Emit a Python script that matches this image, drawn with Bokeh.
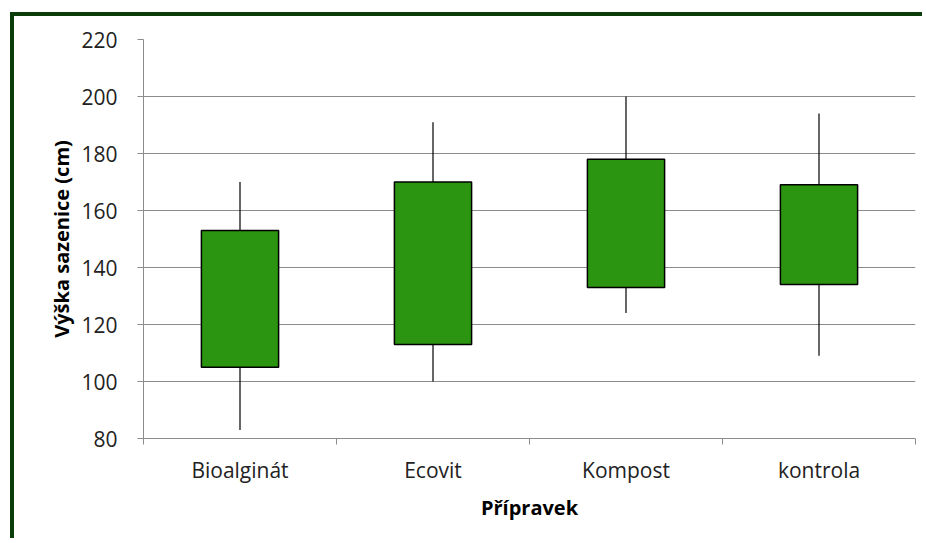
from bokeh.plotting import figure
from bokeh.models import FixedTicker, Range1d
from bokeh.embed import file_html
from bokeh.resources import INLINE

categories = ["Bioalginát", "Ecovit", "Kompost", "kontrola"]
whisker_low = [83, 100, 124, 109]
box_low = [105, 113, 133, 134]
box_high = [153, 170, 178, 169]
whisker_high = [170, 191, 200, 194]
y_ticks = [80, 100, 120, 140, 160, 180, 200, 220]

x_centers = [i + 0.5 for i in range(len(categories))]
x_bounds = list(range(len(categories) + 1))

FONT = "Open Sans"
GREY = "#8c8c8c"
GREEN = "#2b9410"

p = figure(width=912, height=526, output_backend="svg", toolbar_location=None,
           x_range=Range1d(0, len(categories)), y_range=Range1d(80, 220),
           min_border_left=129, min_border_right=11, min_border_top=23,
           min_border_bottom=104)
p.styles = {"margin-left": "10px", "margin-top": "12px",
            "border-left": "4px solid #0b3d0b", "border-top": "4px solid #0b3d0b"}
p.outline_line_color = None
p.background_fill_color = "white"
p.border_fill_color = "white"

# whiskers
p.segment(x0=x_centers, y0=whisker_low, x1=x_centers, y1=whisker_high,
          line_color="black", line_width=1.2)
# boxes
p.vbar(x=x_centers, width=0.4, bottom=box_low, top=box_high,
       fill_color=GREEN, line_color="black", line_width=1.5)

# y axis
p.yaxis.ticker = FixedTicker(ticks=y_ticks)
p.yaxis.axis_line_color = GREY
p.yaxis.major_tick_line_color = GREY
p.yaxis.major_tick_out = 6
p.yaxis.major_tick_in = 0
p.yaxis.minor_tick_line_color = None
p.yaxis.major_label_standoff = 20
p.yaxis.major_label_text_font = FONT
p.yaxis.major_label_text_font_size = "21px"
p.yaxis.major_label_text_color = "#222222"
p.yaxis.axis_label = "Výška sazenice (cm)"
p.yaxis.axis_label_text_font = FONT
p.yaxis.axis_label_text_font_style = "bold"
p.yaxis.axis_label_text_font_size = "20px"
p.yaxis.axis_label_text_color = "black"
p.yaxis.axis_label_standoff = 3

# x axis: labels at centers, tick marks at category boundaries
p.xaxis.ticker = FixedTicker(ticks=x_centers, minor_ticks=x_bounds)
p.xaxis.major_label_overrides = {x: c for x, c in zip(x_centers, categories)}
p.xaxis.axis_line_color = GREY
p.xaxis.major_tick_line_color = None
p.xaxis.minor_tick_line_color = GREY
p.xaxis.minor_tick_out = 6
p.xaxis.minor_tick_in = 0
p.xaxis.major_label_standoff = 11
p.xaxis.major_label_text_font = FONT
p.xaxis.major_label_text_font_size = "21px"
p.xaxis.major_label_text_color = "#222222"
p.xaxis.axis_label = "Přípravek"
p.xaxis.axis_label_text_font = FONT
p.xaxis.axis_label_text_font_style = "bold"
p.xaxis.axis_label_text_font_size = "20px"
p.xaxis.axis_label_text_color = "black"
p.xaxis.axis_label_standoff = 7

p.xgrid.grid_line_color = None
p.ygrid.grid_line_color = GREY
p.ygrid.grid_line_width = 1
p.ygrid.ticker = FixedTicker(ticks=y_ticks)

open("out.html", "w").write(file_html(p, INLINE))
